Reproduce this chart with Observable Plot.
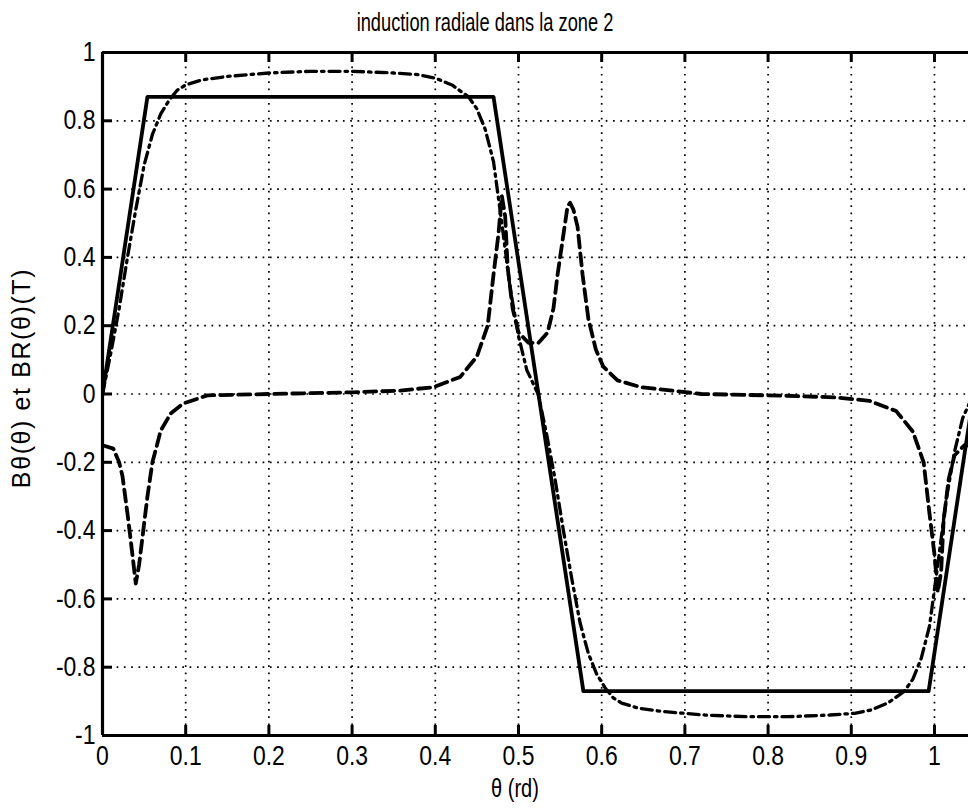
<!DOCTYPE html>
<html><head><meta charset="utf-8">
<script src="https://cdn.jsdelivr.net/npm/d3@7"></script>
<script src="https://cdn.jsdelivr.net/npm/@observablehq/plot@0.6"></script>
<style>
html,body{margin:0;padding:0;background:#fff;overflow:hidden;}
#wrap{position:relative;width:968px;height:809px;}
.lbl{position:absolute;white-space:nowrap;font-family:"Liberation Sans",Arial,sans-serif;color:#000;line-height:1;}
#title{left:485px;top:22px;transform:translate(-50%,-50%) scaleX(0.73);font-size:25px;}
#chart{position:absolute;left:0;top:40px;}
#ylab{left:21px;top:378px;transform:translate(-50%,-50%) rotate(-90deg);font-size:25px;letter-spacing:1.6px;}
#xlab{left:515px;top:788px;transform:translate(-50%,-50%) scaleX(0.8);font-size:25px;}
</style></head><body>
<div id="wrap">
<div id="chart"></div>
<div id="title" class="lbl">induction radiale dans la zone 2</div>
<div id="ylab" class="lbl">Bθ(θ) et BR(θ)(T)</div>
<div id="xlab" class="lbl">θ (rd)</div>
</div>
<script>
// Axis ticks and labels
const xTicks = [0, 0.1, 0.2, 0.3, 0.4, 0.5, 0.6, 0.7, 0.8, 0.9, 1];
const xTickLabels = ["0", "0.1", "0.2", "0.3", "0.4", "0.5", "0.6", "0.7", "0.8", "0.9", "1"];
const yTicks = [-1, -0.8, -0.6, -0.4, -0.2, 0, 0.2, 0.4, 0.6, 0.8, 1];
const yTickLabels = ["-1", "-0.8", "-0.6", "-0.4", "-0.2", "0", "0.2", "0.4", "0.6", "0.8", "1"];

// Solid line (trapezoid)
const solidX = [0, 0.054, 0.470, 0.578, 0.993, 1.047];
const solidY = [0, 0.87, 0.87, -0.87, -0.87, 0];

// Dash-dot line
const dashDotX = [0.000, 0.010, 0.020, 0.030, 0.040, 0.050, 0.060, 0.070, 0.080, 0.090, 0.100, 0.120, 0.150, 0.200, 0.250, 0.300, 0.350, 0.380, 0.400, 0.420, 0.440, 0.450, 0.460, 0.470, 0.480, 0.490, 0.500, 0.510, 0.5236,
  0.534, 0.544, 0.554, 0.564, 0.574, 0.584, 0.594, 0.604, 0.614, 0.624, 0.644, 0.674, 0.724, 0.774, 0.824, 0.874, 0.904, 0.924, 0.944, 0.964, 0.974, 0.984, 0.994, 1.004, 1.014, 1.024, 1.034, 1.047];
const dashDotY = [0.00, 0.12, 0.25, 0.40, 0.54, 0.67, 0.76, 0.82, 0.86, 0.89, 0.905, 0.92, 0.93, 0.94, 0.945, 0.945, 0.94, 0.935, 0.925, 0.905, 0.87, 0.835, 0.775, 0.68, 0.50, 0.31, 0.17, 0.07, 0.00,
  -0.12, -0.25, -0.40, -0.54, -0.67, -0.76, -0.82, -0.86, -0.89, -0.905, -0.92, -0.93, -0.94, -0.945, -0.945, -0.94, -0.935, -0.925, -0.905, -0.87, -0.835, -0.775, -0.68, -0.50, -0.31, -0.17, -0.07, 0.00];

// Dashed line
const dashedX = [0.000, 0.013, 0.020, 0.024, 0.030, 0.034, 0.040, 0.044, 0.048, 0.054, 0.060, 0.070, 0.082, 0.097, 0.126, 0.200, 0.300, 0.358, 0.398, 0.430, 0.450, 0.463, 0.470, 0.476, 0.480, 0.484, 0.487, 0.493, 0.500, 0.512, 0.524,
  0.535, 0.542, 0.547, 0.553, 0.559, 0.562, 0.566, 0.571, 0.577, 0.584, 0.593, 0.602, 0.619, 0.647, 0.720, 0.820, 0.882, 0.922, 0.954, 0.974, 0.987, 0.994, 1.000, 1.004, 1.008, 1.011, 1.017, 1.024, 1.036, 1.047];
const dashedY = [-0.15, -0.16, -0.20, -0.24, -0.35, -0.43, -0.555, -0.50, -0.42, -0.30, -0.20, -0.107, -0.057, -0.028, -0.004, 0.00, 0.005, 0.01, 0.02, 0.05, 0.11, 0.20, 0.35, 0.47, 0.58, 0.52, 0.37, 0.25, 0.18, 0.15, 0.15,
  0.18, 0.25, 0.35, 0.45, 0.55, 0.56, 0.54, 0.49, 0.35, 0.22, 0.13, 0.08, 0.04, 0.02, 0.00, -0.005, -0.01, -0.02, -0.05, -0.11, -0.20, -0.35, -0.47, -0.58, -0.52, -0.37, -0.25, -0.18, -0.15, -0.15];

const toRows = (xs, ys) => xs.map((x, i) => ({x, y: ys[i]}));
const solid = toRows(solidX, solidY);
const dashDot = toRows(dashDotX, dashDotY);
const dashed = toRows(dashedX, dashedY);

const font = '"Liberation Sans",Arial,sans-serif';
const gridStyle = {stroke: "#000", strokeOpacity: 1, strokeWidth: 1.7, strokeDasharray: "1.7,5.6"};

const W = 968, H = 769, mL = 102, mR = 0, mT = 12, mB = 74;
const plotW = W - mL - mR, plotH = H - mT - mB, tickLen = 10;

const chart = Plot.plot({
  width: W,
  height: H,
  marginLeft: mL,
  marginRight: mR,
  marginTop: mT,
  marginBottom: mB,
  style: {background: "#fff", color: "#000", fontFamily: font, overflow: "visible"},
  x: {domain: [0, 1.0409]},
  y: {domain: [-1, 1]},
  marks: [
    Plot.gridX(xTicks, gridStyle),
    Plot.gridY(yTicks, gridStyle),
    Plot.line(dashed, {x: "x", y: "y", stroke: "#000", strokeWidth: 3.8, strokeDasharray: "12,6", clip: true}),
    Plot.line(dashDot, {x: "x", y: "y", stroke: "#000", strokeWidth: 3.3, strokeDasharray: "11,5,2.5,5", clip: true}),
    Plot.line(solid, {x: "x", y: "y", stroke: "#000", strokeWidth: 3.8, clip: true}),
    // inward tick marks on bottom, top and left frame edges
    Plot.ruleX(xTicks, {x: d => d, insetTop: plotH - tickLen, stroke: "#000", strokeWidth: 3}),
    Plot.ruleX(xTicks, {x: d => d, insetBottom: plotH - tickLen, stroke: "#000", strokeWidth: 3}),
    Plot.ruleY(yTicks, {y: d => d, insetRight: plotW - tickLen, stroke: "#000", strokeWidth: 3}),
    // frame
    Plot.ruleX([0], {stroke: "#000", strokeWidth: 3.2}),
    Plot.ruleY([-1, 1], {stroke: "#000", strokeWidth: 3.2}),
    Plot.axisX(xTicks, {anchor: "bottom", tickSize: 0, tickPadding: 10, fontSize: 27, tickFormat: (d, i) => xTickLabels[i], label: null}),
    Plot.axisY(yTicks, {anchor: "left", tickSize: 0, tickPadding: 7, fontSize: 27, tickFormat: (d, i) => yTickLabels[i], label: null})
  ]
});
document.getElementById("chart").appendChild(chart);
// tick labels: horizontally condensed glyphs (narrow Helvetica look)
chart.querySelectorAll("text").forEach(t => {
  if (!t.textContent) return;
  const w = t.getComputedTextLength();
  if (w > 0) { t.setAttribute("textLength", (w * 0.85).toFixed(1)); t.setAttribute("lengthAdjust", "spacingAndGlyphs"); }
});
</script>
</body></html>
